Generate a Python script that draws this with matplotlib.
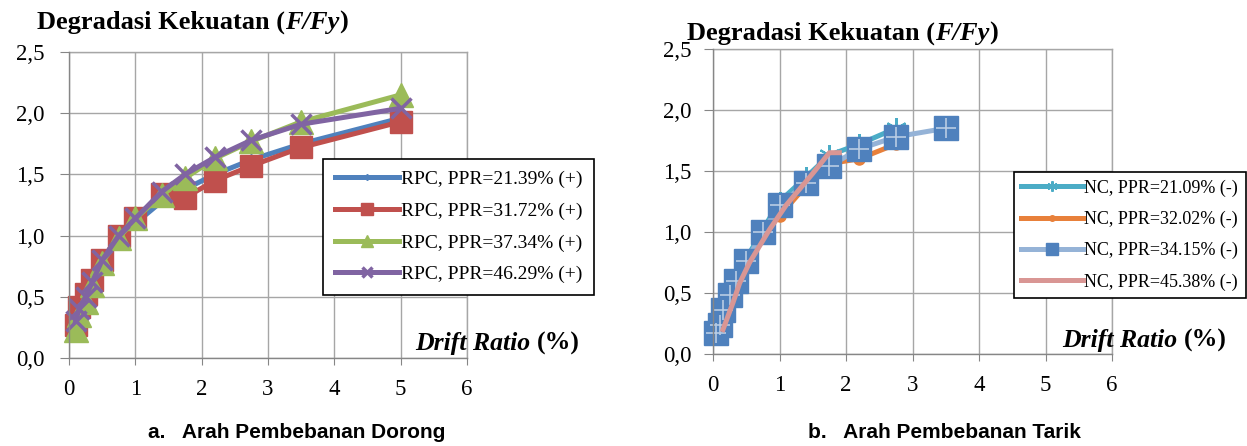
import matplotlib
matplotlib.use("Agg")
import matplotlib.pyplot as plt
from matplotlib.text import Annotation

# ---- data ----
# panel a: Arah Pembebanan Dorong
drift_a = [0.1, 0.15, 0.25, 0.35, 0.5, 0.75, 1.0, 1.4, 1.75, 2.2, 2.75, 3.5, 5.0]
rpc_2139 = [0.28, 0.40, 0.50, 0.63, 0.80, 1.00, 1.10, 1.28, 1.38, 1.50, 1.62, 1.75, 1.96]
rpc_3172 = [0.27, 0.42, 0.52, 0.64, 0.80, 1.00, 1.14, 1.34, 1.31, 1.45, 1.57, 1.72, 1.93]
rpc_3734 = [0.23, 0.35, 0.46, 0.60, 0.78, 0.98, 1.14, 1.33, 1.47, 1.63, 1.77, 1.93, 2.15]
rpc_4629 = [0.30, 0.40, 0.50, 0.62, 0.80, 1.00, 1.14, 1.36, 1.50, 1.64, 1.78, 1.91, 2.04]
labels_a = ["RPC, PPR=21.39% (+)", "RPC, PPR=31.72% (+)",
            "RPC, PPR=37.34% (+)", "RPC, PPR=46.29% (+)"]

# panel b: Arah Pembebanan Tarik
drift_nc_2109 = [0.05, 0.1, 0.15, 0.25, 0.35, 0.5, 0.75, 1.0, 1.4, 1.75, 2.2, 2.75]
nc_2109 = [0.20, 0.26, 0.38, 0.50, 0.62, 0.78, 1.02, 1.25, 1.45, 1.63, 1.72, 1.85]
drift_nc_3202 = [0.1, 0.15, 0.25, 0.35, 0.5, 0.75, 1.0, 1.4, 1.75, 2.2, 2.75]
nc_3202 = [0.20, 0.30, 0.42, 0.55, 0.72, 0.98, 1.13, 1.38, 1.56, 1.60, 1.72]
drift_nc_3415 = [0.05, 0.1, 0.15, 0.25, 0.35, 0.5, 0.75, 1.0, 1.4, 1.75, 2.2, 2.75, 3.5]
nc_3415 = [0.17, 0.24, 0.36, 0.48, 0.60, 0.76, 1.00, 1.22, 1.40, 1.54, 1.68, 1.78, 1.85]
drift_nc_4538 = [0.15, 0.3, 0.4, 0.55, 0.85, 1.1, 1.5, 1.75, 1.9]
nc_4538 = [0.20, 0.42, 0.58, 0.75, 1.02, 1.22, 1.48, 1.65, 1.65]
labels_b = ["NC, PPR=21.09% (-)", "NC, PPR=32.02% (-)",
            "NC, PPR=34.15% (-)", "NC, PPR=45.38% (-)"]

x_ticks = [0, 1, 2, 3, 4, 5, 6]
y_ticks = [0.0, 0.5, 1.0, 1.5, 2.0, 2.5]
y_tick_labels = ["0,0", "0,5", "1,0", "1,5", "2,0", "2,5"]

serif = "Liberation Serif"
sans = "Liberation Sans"
W, H = 1247, 446

fig = plt.figure(figsize=(12.47, 4.46), dpi=100)
ax1 = fig.add_axes([69 / W, 1 - 358 / H, 398 / W, 306 / H])
ax2 = fig.add_axes([713 / W, 1 - 354 / H, 399 / W, 305 / H])

grid_c = "#a6a6a6"
axis_c = "#868686"


def style_axes(ax, ypad):
    ax.set_xlim(0, 6)
    ax.set_ylim(0, 2.5)
    ax.set_xticks(x_ticks)
    ax.set_yticks(y_ticks)
    ax.set_xticklabels([str(t) for t in x_ticks], fontfamily=serif, fontsize=16.5)
    ax.set_yticklabels(y_tick_labels, fontfamily=serif, fontsize=16.5)
    ax.grid(True, color=grid_c, linewidth=1.0)
    ax.set_axisbelow(True)
    for s in ["top", "right"]:
        ax.spines[s].set_visible(False)
    for s in ["left", "bottom"]:
        ax.spines[s].set_color(axis_c)
        ax.spines[s].set_linewidth(1.0)
    ax.tick_params(axis="x", length=5, color=axis_c, pad=10, direction="out")
    ax.tick_params(axis="y", length=6.5, color=axis_c, pad=ypad, direction="out")
    # top and right borders are the 2,5 and 6 grid lines
    ax.axhline(2.5, color=grid_c, linewidth=1.0, clip_on=False, zorder=0.5)
    ax.axvline(6, color=grid_c, linewidth=1.0, clip_on=False, zorder=0.5)


style_axes(ax1, 11)
style_axes(ax2, 9)

lw = 3.6

# panel a
ax1.plot(drift_a, rpc_2139, "-", color="#4F81BD", lw=lw, marker="D", ms=6,
         label=labels_a[0], clip_on=False)
ax1.plot(drift_a, rpc_3172, "-", color="#C0504D", lw=lw, marker="s", ms=16,
         label=labels_a[1], clip_on=False)
ax1.plot(drift_a, rpc_3734, "-", color="#9BBB59", lw=lw, marker="^", ms=17,
         label=labels_a[2], clip_on=False)
ax1.plot(drift_a, rpc_4629, "-", color="#8064A2", lw=lw, marker="x", ms=15,
         mew=2.5, label=labels_a[3], clip_on=False)

# panel b
ax2.plot(drift_nc_2109, nc_2109, "-", color="#4BACC6", lw=lw, marker=(6, 2, 0), ms=15,
         mew=1.5, label=labels_b[0], clip_on=False)
ax2.plot(drift_nc_3202, nc_3202, "-", color="#E8803A", lw=lw, marker="o", ms=8,
         label=labels_b[1], clip_on=False)
ax2.plot(drift_nc_3415, nc_3415, "-", color="#95B3D7", lw=lw, marker="s", ms=17,
         mfc="#4F81BD", mec="#4F81BD", label=labels_b[2], clip_on=False)
ax2.plot(drift_nc_3415, nc_3415, "none", marker="+", ms=14, mec="#b8cce4", mew=1.2,
         clip_on=False)
ax2.plot(drift_nc_4538, nc_4538, "-", color="#D99694", lw=lw,
         label=labels_b[3], clip_on=False)

leg1 = ax1.legend(loc="upper left", bbox_to_anchor=(323 / W, 1 - 159 / H),
                  bbox_transform=fig.transFigure, prop={"family": serif, "size": 14},
                  fancybox=False, framealpha=1, edgecolor="black",
                  handlelength=3.3, handletextpad=0.1, labelspacing=0.72,
                  borderpad=0.6, borderaxespad=0, markerscale=0.5)
leg2 = ax2.legend(loc="upper left", bbox_to_anchor=(1014 / W, 1 - 172 / H),
                  bbox_transform=fig.transFigure, prop={"family": serif, "size": 13},
                  fancybox=False, framealpha=1, edgecolor="black",
                  handlelength=3.4, handletextpad=0.1, labelspacing=0.78,
                  borderpad=0.4, borderaxespad=0, markerscale=0.5)
for leg in (leg1, leg2):
    leg.get_frame().set_linewidth(1.2)
    leg.set_zorder(10)


def place_rich(x, y, parts, size):
    # first piece sits on the baseline, the rest are chained to its right
    last = None
    for text, style in parts:
        kw = dict(fontfamily=serif, fontsize=size, fontweight="bold", fontstyle=style)
        if last is None:
            last = fig.text(x, y, text, ha="left", va="baseline", **kw)
        else:
            last = fig.add_artist(Annotation(text, xy=(1, 0), xycoords=last,
                                             ha="left", va="bottom", **kw))


title_parts = [("Degradasi Kekuatan (", "normal"), ("F/Fy", "italic"), (")", "normal")]
drift_parts = [("Drift Ratio ", "italic"), ("(%)", "normal")]
place_rich(37 / W, 1 - 29 / H, title_parts, 19)
place_rich(687 / W, 1 - 40 / H, title_parts, 19)
place_rich(415 / W, 1 - 350 / H, drift_parts, 18.5)
place_rich(1062 / W, 1 - 347 / H, drift_parts, 18.5)

fig.text(148 / W, 1 - 438 / H, "a.   Arah Pembebanan Dorong", fontfamily=sans,
         fontsize=15, fontweight="bold", ha="left", va="baseline")
fig.text(808 / W, 1 - 438 / H, "b.   Arah Pembebanan Tarik", fontfamily=sans,
         fontsize=15, fontweight="bold", ha="left", va="baseline")

fig.savefig("out.png", dpi=100)
